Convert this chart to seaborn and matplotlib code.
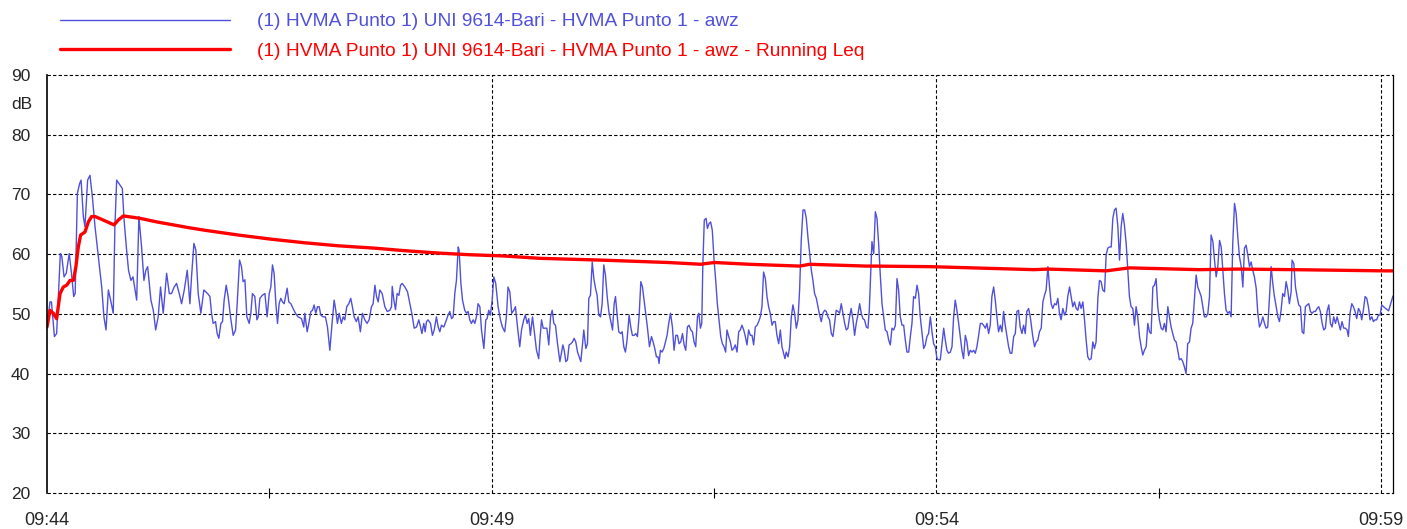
import numpy as np
import pandas as pd
import matplotlib
matplotlib.use("Agg")
import matplotlib.pyplot as plt
import seaborn as sns

# seconds after 09:44:00 and dB values
awz_t = [
    0, 2, 3, 5, 6.5, 9, 10, 11.5, 13, 15, 16.5, 18, 19, 20.5, 22, 23, 24.5, 25.6, 27.4, 29,
    30.6, 32.4, 34.6, 36.9, 38.4, 39.8, 41.4, 42.9, 44.7, 45.8, 47, 49.2, 50.8, 52, 53.7, 55,
    56.6, 58, 60.5, 62, 63.8, 65.4, 66.7, 67.9, 70.1, 71.7, 73.3, 75, 76.6, 78.4, 80.7, 82.5,
    84, 85.8, 87.4, 89.2, 90.8, 92.6, 94.6, 96.4, 97.5, 99.1, 100.4, 102, 103.8, 105.8,
    108.3, 109.9, 111, 112.1, 113.7, 114.8, 115.9, 117.3, 118.4, 119.5, 120.9, 122.2, 123.8,
    125.6, 127.2, 128.3, 129.9, 131.2, 132.3, 133.5, 134.8, 136.4, 137.5, 138.6, 140.2, 141.6,
    142.5, 143.6, 145.2, 147, 148.5, 149.9, 151, 152.1, 153.2, 154.4, 155.5, 156.6, 157.7,
    158.9, 160, 161.1, 162, 163.1, 164.5, 166, 167.6, 169.4, 171.7, 173.2, 173.9, 175.5, 176.6,
    178, 179.1, 180.2, 181.3, 182.5, 183.6, 184.7, 186.3, 187.8, 189.2, 190.8, 192.3, 193.7,
    194.8, 195.9, 197.1, 198.6, 199.8, 200.9, 202.2, 203.6, 204.9, 206, 207.2, 208.7, 209.9,
    211.4, 212.8, 214.4, 215.9, 217.3, 218.9, 220,
    221.2, 222.3, 223.4, 224.5, 226.1, 227.9, 229.5, 231.3, 232.4, 232.9, 234, 235.1, 236.2,
    237.4, 238.5, 239.6, 241.4, 243.2, 244.8, 246.3, 247.7, 249.3, 250.8, 252, 252.9, 254.2,
    255.1, 256, 257.1, 258.7, 260, 261.2, 262.7, 263.9, 265, 266.1, 267.7, 269, 270.6, 271.7,
    272.9, 274, 275.1, 276.2, 277.4, 278, 279.2, 280.3, 281.8, 283, 284.1, 285.2, 286.3, 287.5,
    288.6, 289.7, 290.8, 292, 293.1, 294.7, 296, 296.9, 298, 299.1, 300.3, 301.4, 302.7, 304.3,
    305.9, 307.2, 308.8, 309.9, 311, 312.2, 313.5, 314.9, 316, 317.4, 318.9, 320.1, 321.6,
    322.7, 323.9, 325, 326.1, 327.5, 328.6, 330.2,
    331.7, 332.5, 333.6, 334.7, 335.8, 337.2, 338.5, 339.7, 340.8, 341.9, 343, 344.4, 346,
    347.1, 348, 348.9, 350, 351.1, 352.2, 353.4, 354.5, 355.6, 356.7, 357.9, 359, 360.1, 361.2,
    362.1, 363.5, 364.6, 365.5, 366.6, 367.8, 368.9, 370, 371.1, 372.2, 373.4, 374.5, 375.6,
    376.7, 377.9, 379, 380.1, 381.5, 382.6, 383.5, 384.6, 385.7, 386.9, 388, 389.1, 390.2,
    391.3, 392.7, 393.8, 394.9, 396.1, 397.2, 398.3, 399.4, 400.6, 401.7, 402.8, 403.9, 405,
    406.4, 407.8, 408.9, 410, 411.1, 412.2, 412.9, 413.8, 414.9, 416.1, 417.2, 418.3, 419.4,
    420.6, 421.9, 423, 424.2, 425.3, 426.4, 427.5, 428.7, 429.8, 430.9, 432, 433.1, 434.3,
    435.4, 436.5, 437.6, 438.8, 439.7, 440.8, 441.7, 442.4,
    443.4, 444.6, 445.5, 446.6, 447.7, 448.8, 450, 451.1, 452.2, 453.3, 454.5, 455.6, 456.7,
    457.8, 458.7, 459.9, 461, 462.1, 463.2, 464.3, 465.5, 466.6, 467.7, 468.8, 470, 471.1,
    472.2, 473.3, 474.5, 475.6, 476.7, 477.8, 479, 480.1, 481.2, 482.3, 483.4, 484.6, 485.7,
    486.8, 487.9, 489.1, 490.2, 491.3, 492.4, 493.6, 494.7, 495.8, 496.9, 497.8, 498.7, 499.9,
    501, 502.1, 503.2, 504.3, 505.5, 506.6, 507.7, 508.8, 510, 511.1, 512.2, 513.3, 514.5,
    515.6, 516.7, 517.8, 519, 520.1, 521.2, 522.3, 523.4, 524.6, 525.7, 526.8, 527.9, 529.1,
    530.2, 531.3, 532.4, 533.6, 534.7, 535.8, 536.9, 538.1, 539.2, 540.3, 541.4, 542.5, 543.7,
    544.8, 545.9, 547, 548.2, 549.3, 550.4, 551.5, 552.7,
    553.8, 554.7, 555.6, 556.5, 557.7, 558.8, 559.9, 561, 562.2, 563.3, 564.4, 565.5, 566.7,
    567.8, 568.9, 570, 571.2, 572.3, 573.4, 574.5, 575.6, 576.8, 577.9, 579, 580.1, 581.3,
    582.4, 583.5, 584.6, 585.8, 586.9, 588, 589.1, 590.3, 591.4, 592.5, 593.6, 594.7, 595.9,
    597, 598.1, 599.2, 600.4, 601.5, 602.6, 603.7, 604.9, 606, 607.1, 608.2, 609.4, 610.5,
    611.6, 612.7, 613.8, 615, 616.1, 617.2, 618.3, 619.5, 620.6, 621.7, 622.8, 624, 625.1,
    626.2, 627.3, 628.5, 629.6, 630.7, 631.8, 633, 634.1, 635.2, 636.3, 637.4, 638.6, 639.7,
    640.8, 641.9, 643.1, 644.2, 645.3, 646.4, 647.6, 648.7, 649.8, 650.9, 652.1, 653.2, 654.3,
    655.4, 656.5, 657.7, 658.8, 659.9, 661, 662.2, 663.3, 664.4,
    665, 666.2, 667.3, 668.4, 669.5, 670.7, 671.8, 672.9, 674, 675.2, 676.3, 677.4, 678.5,
    679.7, 680.8, 681.9, 683, 684.1, 685.3, 686.4, 687.5, 688.6, 689.8, 690.9, 692, 693.1,
    694.3, 695.4, 696.5, 697.6, 698.8, 699.9, 701, 702.1, 703.2, 704.4, 705.5, 706.6, 707.7,
    708.9, 710, 711.1, 712.2, 713.4, 714.5, 715.6, 716.7, 717.9, 719, 720.1, 721.2, 722.4,
    723.5, 724.6, 725.7, 726.8, 728, 729.1, 730.2, 731.3, 732.5, 733.6, 734.7, 735.8, 737,
    738.1, 739.2, 740.3, 741.5, 742.6, 743.7, 744.8, 746, 747.1, 748.2, 749.3, 750.4, 751.6,
    752.7, 753.8, 754.9, 756.1, 757.2, 758.3, 759.4, 760.6, 761.7, 762.8, 763.9, 765.1, 766.2,
    767.3, 768.4, 769.5, 770.7, 771.8, 772.9, 774, 775.2,
    776.3, 777.5, 778.6, 779.7, 780.8, 782, 783.1, 784.2, 785.3, 786.5, 787.6, 788.7, 789.8,
    791, 792.1, 793.2, 794.3, 795.4, 796.6, 797.7, 798.8, 799.9, 801.1, 802.2, 803.3, 804.4,
    805.6, 806.7, 807.8, 808.9, 810.1, 811.2, 812.3, 813.4, 814.5, 815.7, 816.8, 817.9, 819,
    820.2, 821.3, 822.4, 823.5, 824.7, 825.8, 826.9, 828, 829.2, 830.3, 831.4, 832.5, 833.6,
    834.8, 835.9, 837, 838.1, 839.3, 839.9, 841.1, 842.2, 843.3, 844.4, 845.6, 846.7, 847.8,
    848.9, 850.1, 851.2, 852.3, 853.4, 854.6, 855.7, 856.8, 857.9, 859, 860.2, 861.3, 862.4,
    863.5, 864.7, 865.8, 866.9, 868, 869.2, 870.3, 871.4, 872.5, 873.6, 874.8, 875.9, 877,
    877.9, 879, 880.2, 881.3, 882.4, 883.5, 884.7, 885.8, 886.9, 888, 889.2, 890.3, 891.4,
    892.5, 893.7, 894.8, 895.9, 897, 898.2, 899.3, 900.4, 901.6, 905, 908,
]
awz_db = [
    47.8, 52, 52, 46.2, 46.7, 60.1, 59.6, 56.2, 56.8, 60.1, 56.8, 52.9, 53.4, 70.2, 71.8, 72.4,
    66.3, 64.6, 72.4, 73.2, 69.6, 64.6, 59.6, 54.5, 49.5, 47.3, 54, 52.3, 50.1, 64.6, 72.4, 71.6,
    71.0, 65.7, 60.7, 57.3, 55.6, 56.2, 52.3, 66.3, 61.2, 55.6, 57.3, 57.9, 52.3, 50.6, 47.3,
    49.5, 54.5, 50.1, 56.8, 53.4, 53.4, 54.5, 55.1, 53.4, 51.7, 54, 57.3, 51.7, 56.2, 61.8,
    60.7, 53.4, 50.1, 54,
    53.4, 52.9, 50.1, 48.4, 48.7, 46.7, 45.9, 48.4, 48.7, 52.3, 54.8, 52.9, 49.5, 46.4, 47.3,
    51.7, 59, 57.9, 55.4, 55.7, 49.5, 48.4, 50.1, 53.4, 52.9, 49.0, 49.5, 52.6, 53.1, 53.4,
    49.5, 53.4, 54.5, 58.2, 56.8, 51.7, 48.4, 51.7, 52.6, 52.0, 51.7, 53.1, 54.3, 52.0, 51.7,
    50.9, 50.1, 49.5, 49.2, 47.8, 50.1, 47.0, 48.4, 50.4, 50.6, 51.5, 50.1, 51.2, 51.2, 49.8,
    49.5, 49.5, 47.8, 43.9, 48.4, 52.3, 50.6, 48.4, 50.1, 48.4, 49.5, 49.0, 51.2, 51.7, 52.6,
    51.2, 49.5, 48.7, 49.5, 47.0, 50.1, 49.0, 48.4, 49.0, 51.2, 51.7,
    54.8, 52.9, 52.0, 54.0, 53.4, 51.2, 50.4, 50.6, 51.2, 54.6, 52.3, 50.7, 53.4, 53.1, 54.8,
    55.1, 54.5, 53.7, 51.7, 49.8, 47.6, 47.8, 49.0, 47.8, 46.7, 48.4, 47.0, 48.7, 49.0, 48.4,
    46.4, 47.3, 49.5, 47.8, 47.0, 48.1, 47.8, 48.7, 49.8, 50.4, 49.2, 49.5, 53.4, 55.6, 61.2,
    60.7, 55.1, 52.3, 50.6, 50.1, 50.4, 49.0, 48.4, 49.0, 48.4, 49.5, 51.7, 51.2, 47.3, 44.2,
    49.0, 49.2, 50.6, 49.8, 52.3, 56.2, 55.1, 51.2, 49.0, 47.8, 47.0, 49.5, 54.5, 53.7, 50.1,
    50.6, 51.2, 47.8, 44.5, 47.3, 49.0, 49.8, 48.4, 49.2, 46.4, 49.5, 47.3, 43.9,
    42.5, 45.6, 49.0, 47.6, 47.6, 47.6, 44.8, 49.5, 50.6, 48.4, 48.1, 45.0, 42.0, 43.6, 44.8,
    43.9, 42.0, 42.3, 44.8, 45.0, 45.3, 45.9, 45.3, 43.6, 42.8, 42.0, 44.8, 47.3, 44.2, 45.0,
    52.6, 53.1, 58.7, 55.9, 54.3, 53.1, 49.8, 49.5, 51.7, 58.2, 56.5, 52.9, 50.4, 49.0, 47.3,
    51.7, 52.9, 49.8, 47.0, 46.7, 47.0, 44.5, 43.6, 45.6, 49.8, 47.8, 46.4, 46.4, 46.7, 46.2,
    49.5, 55.4, 54.5, 52.3, 50.1, 47.8, 44.5, 46.2, 45.3, 44.2, 42.8, 42.8, 41.7, 43.9, 43.6,
    44.2, 45.3, 46.4, 48.4, 50.1, 47.8, 43.9, 46.4, 46.4, 45.0, 45.3, 46.7, 44.8, 43.9, 47.8,
    48.1, 47.3, 47.0, 45.3, 44.5, 49.5, 50.1, 47.6, 48.4, 58.0,
    65.7, 66.0, 64.3, 65.1, 65.4, 64.0, 59.0, 55.6, 51.7, 49.0, 46.2, 45.0, 44.5, 43.6, 47.3,
    46.2, 45.3, 43.9, 44.2, 44.8, 43.6, 47.0, 47.3, 48.1, 47.3, 46.2, 44.8, 47.3, 46.4, 46.4,
    44.8, 47.8, 48.1, 48.7, 49.5, 51.2, 57.0, 55.9, 52.9, 51.2, 50.1, 48.1, 48.7, 48.7, 46.4,
    45.0, 47.3, 44.5, 43.4, 42.5, 43.6, 42.8, 44.5, 49.5, 51.5, 50.1, 47.6, 49.0, 54.0, 62.3,
    67.4, 67.4, 66.0, 62.9, 60.1, 57.3, 55.6, 53.4, 52.6, 51.2, 49.8, 48.7, 50.1, 50.6, 50.4,
    49.5, 49.0, 46.7, 46.2, 48.4, 50.6, 50.4, 50.1, 51.7, 50.1, 48.4, 47.3, 47.6, 49.5, 50.9,
    49.0, 46.4, 48.4, 49.8, 51.7, 50.1, 49.2, 49.0, 47.8,
    47.6, 50.6, 56.2, 62.1, 60.1, 67.1, 66.0, 61.8, 56.2, 51.7, 49.5, 47.3, 47.0, 45.6, 44.8,
    47.6, 47.3, 48.1, 55.9, 54.0, 49.5, 48.1, 48.1, 45.6, 43.6, 43.6, 46.2, 48.4, 52.9, 52.6,
    54.8, 53.4, 49.5, 46.7, 44.2, 44.8, 46.2, 46.7, 49.5, 47.0, 45.0, 44.5, 42.5, 42.3, 42.3,
    44.8, 47.6, 45.6, 43.9, 43.4, 43.6, 44.5, 49.5, 52.3, 50.6, 48.4, 46.2, 43.9, 42.5, 46.4,
    45.3, 43.0, 43.9, 43.6, 43.9, 43.4, 44.5, 46.4, 48.4, 48.4, 48.1, 47.6, 48.4, 46.7, 48.1,
    52.9, 54.5, 52.3, 49.5, 47.0, 48.1, 47.0, 50.4, 48.1, 46.2, 44.5, 43.4, 43.4, 46.2, 46.7,
    50.4, 50.6, 47.8, 46.7, 48.1, 46.7, 50.4, 50.9, 49.5, 47.3,
    46.2, 44.5, 45.3, 45.6, 47.0, 47.6, 52.0, 53.1, 54.0, 57.9, 54.5, 51.7, 50.9, 51.7, 51.5,
    52.6, 50.1, 49.0, 50.9, 49.8, 50.4, 52.9, 54.5, 52.9, 51.2, 52.0, 50.9, 50.6, 52.0, 50.9,
    52.0, 49.0, 45.6, 42.8, 42.3, 42.5, 45.3, 44.2, 45.3, 52.6, 55.6, 55.4, 54.0, 53.7, 59.9,
    61.0, 61.2, 61.2, 66.0, 67.4, 67.7, 64.6, 59.0, 64.6, 66.8, 64.9, 61.8, 57.3, 52.9, 51.2,
    50.9, 48.1, 51.2, 49.5, 46.2, 44.5, 43.1, 43.9, 44.5, 48.4, 47.0, 46.7, 54.5, 54.8, 55.9,
    51.2, 49.0, 47.6, 47.3, 48.4, 47.0, 51.2, 49.5, 47.8, 46.7, 45.6, 45.3, 43.9, 42.3, 42.5,
    42.0, 41.1, 40.0, 45.0, 45.3, 47.6, 48.4, 52.3, 56.5,
    54.5, 53.7, 52.9, 51.2, 49.5, 49.5, 50.1, 52.9, 63.2, 62.1, 59.0, 56.2, 57.9, 62.3, 61.2,
    57.3, 53.4, 50.6, 50.1, 50.4, 49.5, 61.8, 68.5, 66.8, 62.9, 59.6, 57.9, 54.5, 61.0, 61.5,
    59.8, 57.9, 58.7, 57.3, 56.2, 54.3, 50.1, 47.8, 48.4, 49.5, 48.4, 47.6, 47.8, 52.9, 57.9,
    55.1, 52.9, 51.2, 49.5, 48.7, 50.6, 53.4, 52.9, 55.4, 54.0, 51.7, 53.7, 59.0, 58.4, 54.5,
    52.9, 51.5, 51.2, 47.0, 46.7, 51.2, 51.5, 51.7, 50.4, 50.1, 50.4, 50.4, 50.9, 51.2, 50.4,
    48.4, 47.3, 47.6, 50.4, 51.5, 48.4, 47.8, 49.5, 48.4, 49.5, 48.4, 47.3, 48.7, 47.6, 47.6,
    47.3, 46.2, 50.1, 51.7, 51.2, 50.4, 49.2, 50.9, 50.4, 49.0, 50.6, 52.9, 52.6, 51.2, 49.0,
    49.5, 48.7, 49.0, 49.0, 49.8, 49.8, 51.5, 51.2, 50.5, 53.0,
]

leq_t = [
    0, 2, 4.2, 6.5, 8.8, 11, 13.3, 15.5, 17.8, 19.5, 21.1, 22.7, 25.6, 27.9, 30.1, 32.4, 38,
    45.2, 48.1, 51.5, 62.7, 74, 85.2, 96.4, 106.5, 129, 151.4, 173.9, 196.4, 221.1, 240.3,
    262.7, 285.2, 307.7, 332.4, 374, 419, 441.5, 443.5, 450.4, 474, 507.7, 514.5, 552.7,
    558.3, 596.5, 666, 675.2, 714.5, 730.2, 777.4, 803.3, 841.5, 902, 908,
]
leq_db = [
    47.8, 50.6, 50.1, 49.2, 53.4, 54.5, 54.8, 55.6, 55.6, 57.9, 61.2, 63.2, 63.7, 65.4, 66.3,
    66.3, 65.7, 64.9, 65.7, 66.4, 66.0, 65.4, 64.9, 64.4, 64.0, 63.2, 62.5, 61.9, 61.4, 61.0,
    60.6, 60.2, 59.9, 59.7, 59.3, 59.0, 58.6, 58.3, 58.4, 58.6, 58.3, 58.0, 58.3, 58.0, 58.0,
    57.9, 57.4, 57.5, 57.2, 57.7, 57.4, 57.5, 57.4, 57.2, 57.2,
]

series_labels = [
    "(1) HVMA Punto 1) UNI 9614-Bari - HVMA Punto 1 - awz",
    "(1) HVMA Punto 1) UNI 9614-Bari - HVMA Punto 1 - awz - Running Leq",
]
major_secs = [0, 300, 600, 900]
major_labels = ["09:44", "09:49", "09:54", "09:59"]
minor_secs = [150, 450, 750]
y_ticks = [20, 30, 40, 50, 60, 70, 80, 90]

BLUE = "#5050DC"
RED = "#FF0000"

sns.set_style("white")
plt.rcParams['font.family'] = ['Liberation Sans', 'DejaVu Sans']

fig = plt.figure(figsize=(14.07, 5.29), dpi=100)
ax = fig.add_axes([47 / 1407, 36 / 529, 1346 / 1407, 418 / 529])

df_awz = pd.DataFrame({"t": awz_t, "dB": awz_db})
df_leq = pd.DataFrame({"t": leq_t, "dB": leq_db})
sns.lineplot(data=df_awz, x="t", y="dB", color=BLUE, linewidth=1.0, estimator=None,
             sort=False, ax=ax, label=series_labels[0])
sns.lineplot(data=df_leq, x="t", y="dB", color=RED, linewidth=2.4, estimator=None,
             sort=False, ax=ax, label=series_labels[1])

ax.set_xlim(0, 908)
ax.set_ylim(20, 90)
ax.set_xlabel("")
ax.set_ylabel("")

# grid: black dashed, also used as top and bottom border
for y in y_ticks:
    ax.axhline(y, color="black", lw=0.8, ls=(0, (3, 2)), zorder=0.5, clip_on=False)
for x in major_secs[1:]:
    ax.axvline(x, color="black", lw=0.8, ls=(0, (3, 2)), zorder=0.5)

ax.spines["top"].set_visible(False)
ax.spines["bottom"].set_visible(False)
ax.spines["left"].set_color("black")
ax.spines["left"].set_linewidth(1.2)
ax.spines["right"].set_color("black")
ax.spines["right"].set_linewidth(0.9)

ax.set_xticks(major_secs, labels=major_labels, fontsize=13)
ax.set_xticks(minor_secs, minor=True)
ax.tick_params(axis="x", which="major", direction="out", length=11, width=0.8,
               color="black", pad=3)
ax.tick_params(axis="x", which="minor", direction="inout", length=7, width=0.8,
               color="black", bottom=True)
ax.set_yticks(y_ticks)
ax.tick_params(axis="y", direction="out", length=11, width=0.8, color="black",
               labelsize=12.5, pad=1)
ax.text(-0.011, 85, "dB", transform=ax.get_yaxis_transform(), ha="right", va="center",
        fontsize=12.5)

handles, labels = ax.get_legend_handles_labels()
ax.get_legend().remove()
fig.legend(handles, labels, loc="upper left", bbox_to_anchor=(60 / 1407, 1 - 13 / 529),
           frameon=False, fontsize=13.75, handlelength=8.9, handletextpad=1.4,
           labelspacing=0.64, borderpad=0, borderaxespad=0, labelcolor="linecolor")

fig.savefig("out.png", dpi=100)
